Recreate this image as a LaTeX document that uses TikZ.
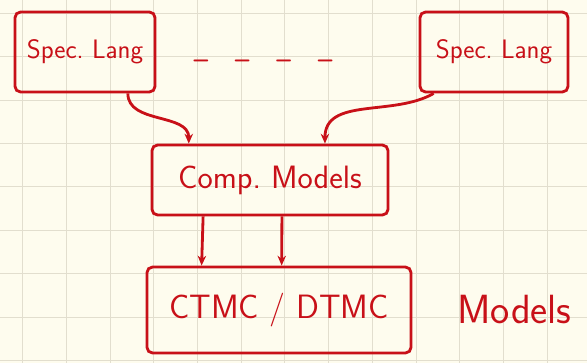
\documentclass[tikz,border=0pt]{standalone}
\usepackage{tikz}
\usetikzlibrary{arrows.meta, positioning, calc}
\definecolor{inkred}{RGB}{200,16,24}
\definecolor{paper}{RGB}{254,252,238}
\definecolor{gridline}{RGB}{226,222,206}

\begin{document}
\begin{tikzpicture}[
    x=0.025cm, y=-0.025cm,
    sketchbox/.style={rectangle, draw=inkred, line width=2pt, rounded corners=4pt, text=inkred, font=\sffamily\fontsize{19}{22}\selectfont, inner sep=0pt},
    note/.style={text=inkred, font=\sffamily\fontsize{29}{33}\selectfont},
    arrow/.style={-{Stealth[length=7pt,width=6pt]}, line width=2pt, draw=inkred}
  ]

  % paper with grid
  \fill[paper] (0,0) rectangle (587,363);
  \useasboundingbox (0,0) rectangle (587,363);
  \foreach \k in {0,...,12}
    \draw[gridline, line width=0.7pt] ({22.7+43.7*\k},0) -- ++(0,363);
  \foreach \k in {0,...,8}
    \draw[gridline, line width=0.7pt] (0,{13.3+43.4*\k}) -- ++(587,0);

  % languages
  \node[sketchbox, minimum width=3.5cm, minimum height=2cm] (spec1) at (85,52) {Spec.\ Lang};
  \node[sketchbox, minimum width=3.7cm, minimum height=2cm] (spec2) at (494,52) {Spec.\ Lang};
  \node[text=inkred, font=\sffamily\bfseries\fontsize{19}{22}\selectfont] (dots) at (263,64) {--\quad--\quad--\quad--};

  % models
  \node[sketchbox, minimum width=5.9cm, minimum height=1.75cm, font=\sffamily\fontsize{23}{26}\selectfont] (comp) at (270,180) {Comp.\ Models};
  \node[sketchbox, minimum width=6.6cm, minimum height=2.15cm, font=\sffamily\fontsize{24}{28}\selectfont] (ctmc) at (279,310) {CTMC / DTMC};
  \node[note, right=1cm of ctmc] (models) {Models};

  \draw[arrow] ($(spec1.south west)!0.8!(spec1.south east)$) to[out=-90, in=90] ($(comp.north west)!0.16!(comp.north east)$);
  \draw[arrow] ($(spec2.south west)!0.1!(spec2.south east)$) to[out=-150, in=90] ($(comp.north west)!0.73!(comp.north east)$);
  \draw[arrow] ($(comp.south west)!0.22!(comp.south east)$) -- ($(ctmc.north west)!0.21!(ctmc.north east)$);
  \draw[arrow] ($(comp.south west)!0.55!(comp.south east)$) -- ($(ctmc.north west)!0.51!(ctmc.north east)$);

\end{tikzpicture}
\end{document}
